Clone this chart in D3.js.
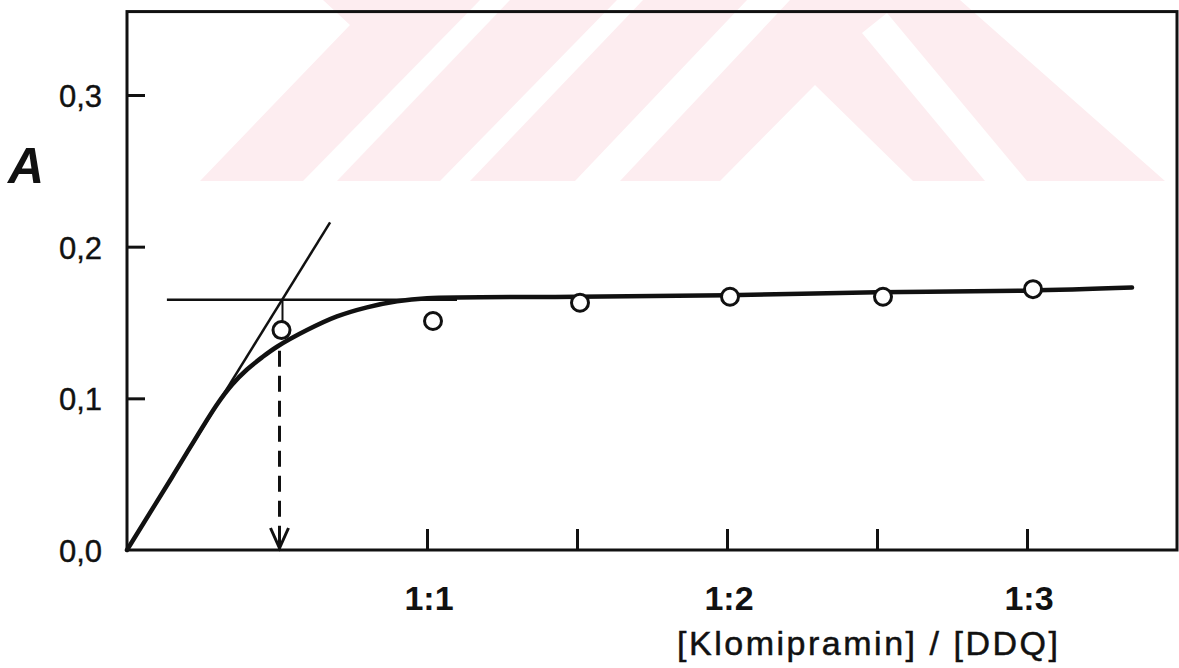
<!DOCTYPE html>
<html lang="tr">
    <head>
        <meta charset="utf-8">
        <title>Klomipramin / DDQ</title>
        <script src="https://d3js.org/d3.v7.min.js"></script>
        <style type="text/css">
            body { margin: 0; background: #fff; }
            .tick-label { font-family: "Liberation Sans", Arial, sans-serif; font-size: 31px; fill: #111; stroke: #111; stroke-width: 0.4px; }
            .x-label { font-family: "Liberation Sans", Arial, sans-serif; font-size: 34px; font-weight: bold; fill: #111; }
            .title { font-family: "Liberation Sans", Arial, sans-serif; font-size: 34px; fill: #111; stroke: #111; stroke-width: 0.5px; }
        </style>
    </head>
    <body>
        <script type="text/javascript">
            // data
            const xTicks = [1, 1.5, 2, 2.5, 3];
            const xTickLabels = ["1:1", "", "1:2", "", "1:3"];
            const yTicks = [0, 0.1, 0.2, 0.3];
            const yTickLabels = ["0,0", "0,1", "0,2", "0,3"];

            // measured points (open circles)
            const pointX = [0.515, 1.02, 1.51, 2.01, 2.52, 3.02];
            const pointY = [0.145, 0.151, 0.163, 0.167, 0.167, 0.172];

            // fitted saturation curve
            const curveX = [0, 0.15, 0.30, 0.35, 0.40, 0.45, 0.50, 0.60, 0.70, 0.80, 0.90, 1.00, 1.50, 2.00, 2.50, 3.00, 3.35];
            const curveY = [0, 0.048, 0.096, 0.109, 0.119, 0.127, 0.134, 0.145, 0.154, 0.160, 0.164, 0.166, 0.167, 0.168, 0.170, 0.171, 0.173];

            // construction lines
            const tangentX = [0, 0.677];
            const tangentY = [0, 0.216];
            const plateauX = [0.133, 1.1];
            const plateauY = [0.165, 0.165];
            const stoichX = 0.515;

            //constants
            const w = 1179;
            const h = 668;

            const svg = d3.select("body")
                          .append("svg")
                          .attr("width", w)
                          .attr("height", h);

            // background watermark (decoration, pixel shapes)
            const wmPink = [[200,181],[350,25],[323,0],[960,0],[1165,181]];
            const wmGaps = [
                [[303,181],[337,181],[510,0],[480,0]],
                [[440,181],[470,181],[643,0],[617,0]],
                [[575,181],[620,181],[790,0],[747,0]],
                [[720,181],[815,85],[913,181]],
                [[862,33],[887,13],[1027,181],[985,181]]
            ];
            svg.append("polygon")
               .attr("points", wmPink.map(p => p.join(",")).join(" "))
               .attr("fill", "#fdedf0");
            svg.selectAll("polygon.gap")
               .data(wmGaps)
               .enter()
               .append("polygon")
               .attr("class", "gap")
               .attr("points", d => d.map(p => p.join(",")).join(" "))
               .attr("fill", "#fff");

            //scales
            const x = d3.scaleLinear().domain([0, 3.5]).range([127, 1177]);
            const y = d3.scaleLinear().domain([0, 0.3]).range([550, 95]);
            const yTop = 0.355;

            // frame
            svg.append("rect")
               .attr("x", x(0))
               .attr("y", y(yTop))
               .attr("width", x(3.5) - x(0))
               .attr("height", y(0) - y(yTop))
               .attr("fill", "none")
               .attr("stroke", "#111")
               .attr("stroke-width", 3);

            // y ticks (inward)
            const yAxis = d3.axisRight(y)
                            .tickValues(yTicks.slice(1))
                            .tickSize(18)
                            .tickFormat("");
            const gy = svg.append("g")
                          .attr("transform", "translate(" + x(0) + ",0)")
                          .call(yAxis);
            gy.select(".domain").remove();
            gy.selectAll("line").attr("stroke", "#111").attr("stroke-width", 3);

            svg.selectAll("text.ylab")
               .data(yTicks)
               .enter()
               .append("text")
               .attr("class", "tick-label")
               .attr("x", 102)
               .attr("y", d => y(d) + 12)
               .attr("text-anchor", "end")
               .text((d, i) => yTickLabels[i]);

            // x ticks (inward)
            const xAxis = d3.axisTop(x)
                            .tickValues(xTicks)
                            .tickSize(21)
                            .tickFormat("");
            const gx = svg.append("g")
                          .attr("transform", "translate(0," + y(0) + ")")
                          .call(xAxis);
            gx.select(".domain").remove();
            gx.selectAll("line").attr("stroke", "#111").attr("stroke-width", 3);

            svg.selectAll("text.xlab")
               .data(xTicks)
               .enter()
               .append("text")
               .attr("class", "x-label")
               .attr("x", d => x(d) + 2)
               .attr("y", 610)
               .attr("text-anchor", "middle")
               .text((d, i) => xTickLabels[i]);

            // axis titles
            svg.append("text")
               .attr("class", "title")
               .attr("x", 677)
               .attr("y", 655)
               .attr("textLength", 381)
               .attr("lengthAdjust", "spacing")
               .text("[Klomipramin] / [DDQ]");

            svg.append("text")
               .attr("x", 8)
               .attr("y", 183)
               .attr("font-family", "Liberation Sans, Arial, sans-serif")
               .attr("font-size", 50)
               .attr("font-style", "italic")
               .attr("font-weight", "bold")
               .attr("fill", "#111")
               .text("A");

            const line = d3.line()
                           .x(d => x(d[0]))
                           .y(d => y(d[1]));

            // tangent and plateau (thin)
            svg.append("path")
               .attr("d", line(d3.zip(tangentX, tangentY)))
               .attr("fill", "none")
               .attr("stroke", "#111")
               .attr("stroke-width", 2.5);
            svg.append("path")
               .attr("d", line(d3.zip(plateauX, plateauY)))
               .attr("fill", "none")
               .attr("stroke", "#111")
               .attr("stroke-width", 2.5);

            // short drop from intersection to first point
            svg.append("line")
               .attr("x1", x(stoichX) + 1).attr("x2", x(stoichX) + 1)
               .attr("y1", y(plateauY[0])).attr("y2", y(pointY[0]) - 8)
               .attr("stroke", "#111")
               .attr("stroke-width", 2);

            // saturation curve (thick)
            const curveLine = d3.line()
                                .x(d => x(d[0]))
                                .y(d => y(d[1]))
                                .curve(d3.curveCatmullRom);
            svg.append("path")
               .attr("d", curveLine(d3.zip(curveX, curveY)))
               .attr("fill", "none")
               .attr("stroke", "#111")
               .attr("stroke-width", 4.5)
               .attr("stroke-linecap", "round");

            // dashed arrow down to the axis
            const ax = x(stoichX) - 2;
            svg.append("line")
               .attr("x1", ax).attr("x2", ax)
               .attr("y1", y(0.134) + 4).attr("y2", y(0) - 22)
               .attr("stroke", "#111")
               .attr("stroke-width", 3)
               .attr("stroke-dasharray", "16,9");
            svg.append("path")
               .attr("d", "M" + (ax - 9) + "," + (y(0) - 22) + "L" + ax + "," + (y(0) - 2) +
                          "L" + (ax + 9) + "," + (y(0) - 22) +
                          "M" + ax + "," + (y(0) - 24) + "L" + ax + "," + y(0))
               .attr("fill", "none")
               .attr("stroke", "#111")
               .attr("stroke-width", 3);

            // open circles
            svg.selectAll("circle.pt")
               .data(d3.zip(pointX, pointY))
               .enter()
               .append("circle")
               .attr("class", "pt")
               .attr("cx", d => x(d[0]))
               .attr("cy", d => y(d[1]))
               .attr("r", 8.5)
               .attr("fill", "#fff")
               .attr("stroke", "#111")
               .attr("stroke-width", 3);
        </script>
    </body>
</html>
